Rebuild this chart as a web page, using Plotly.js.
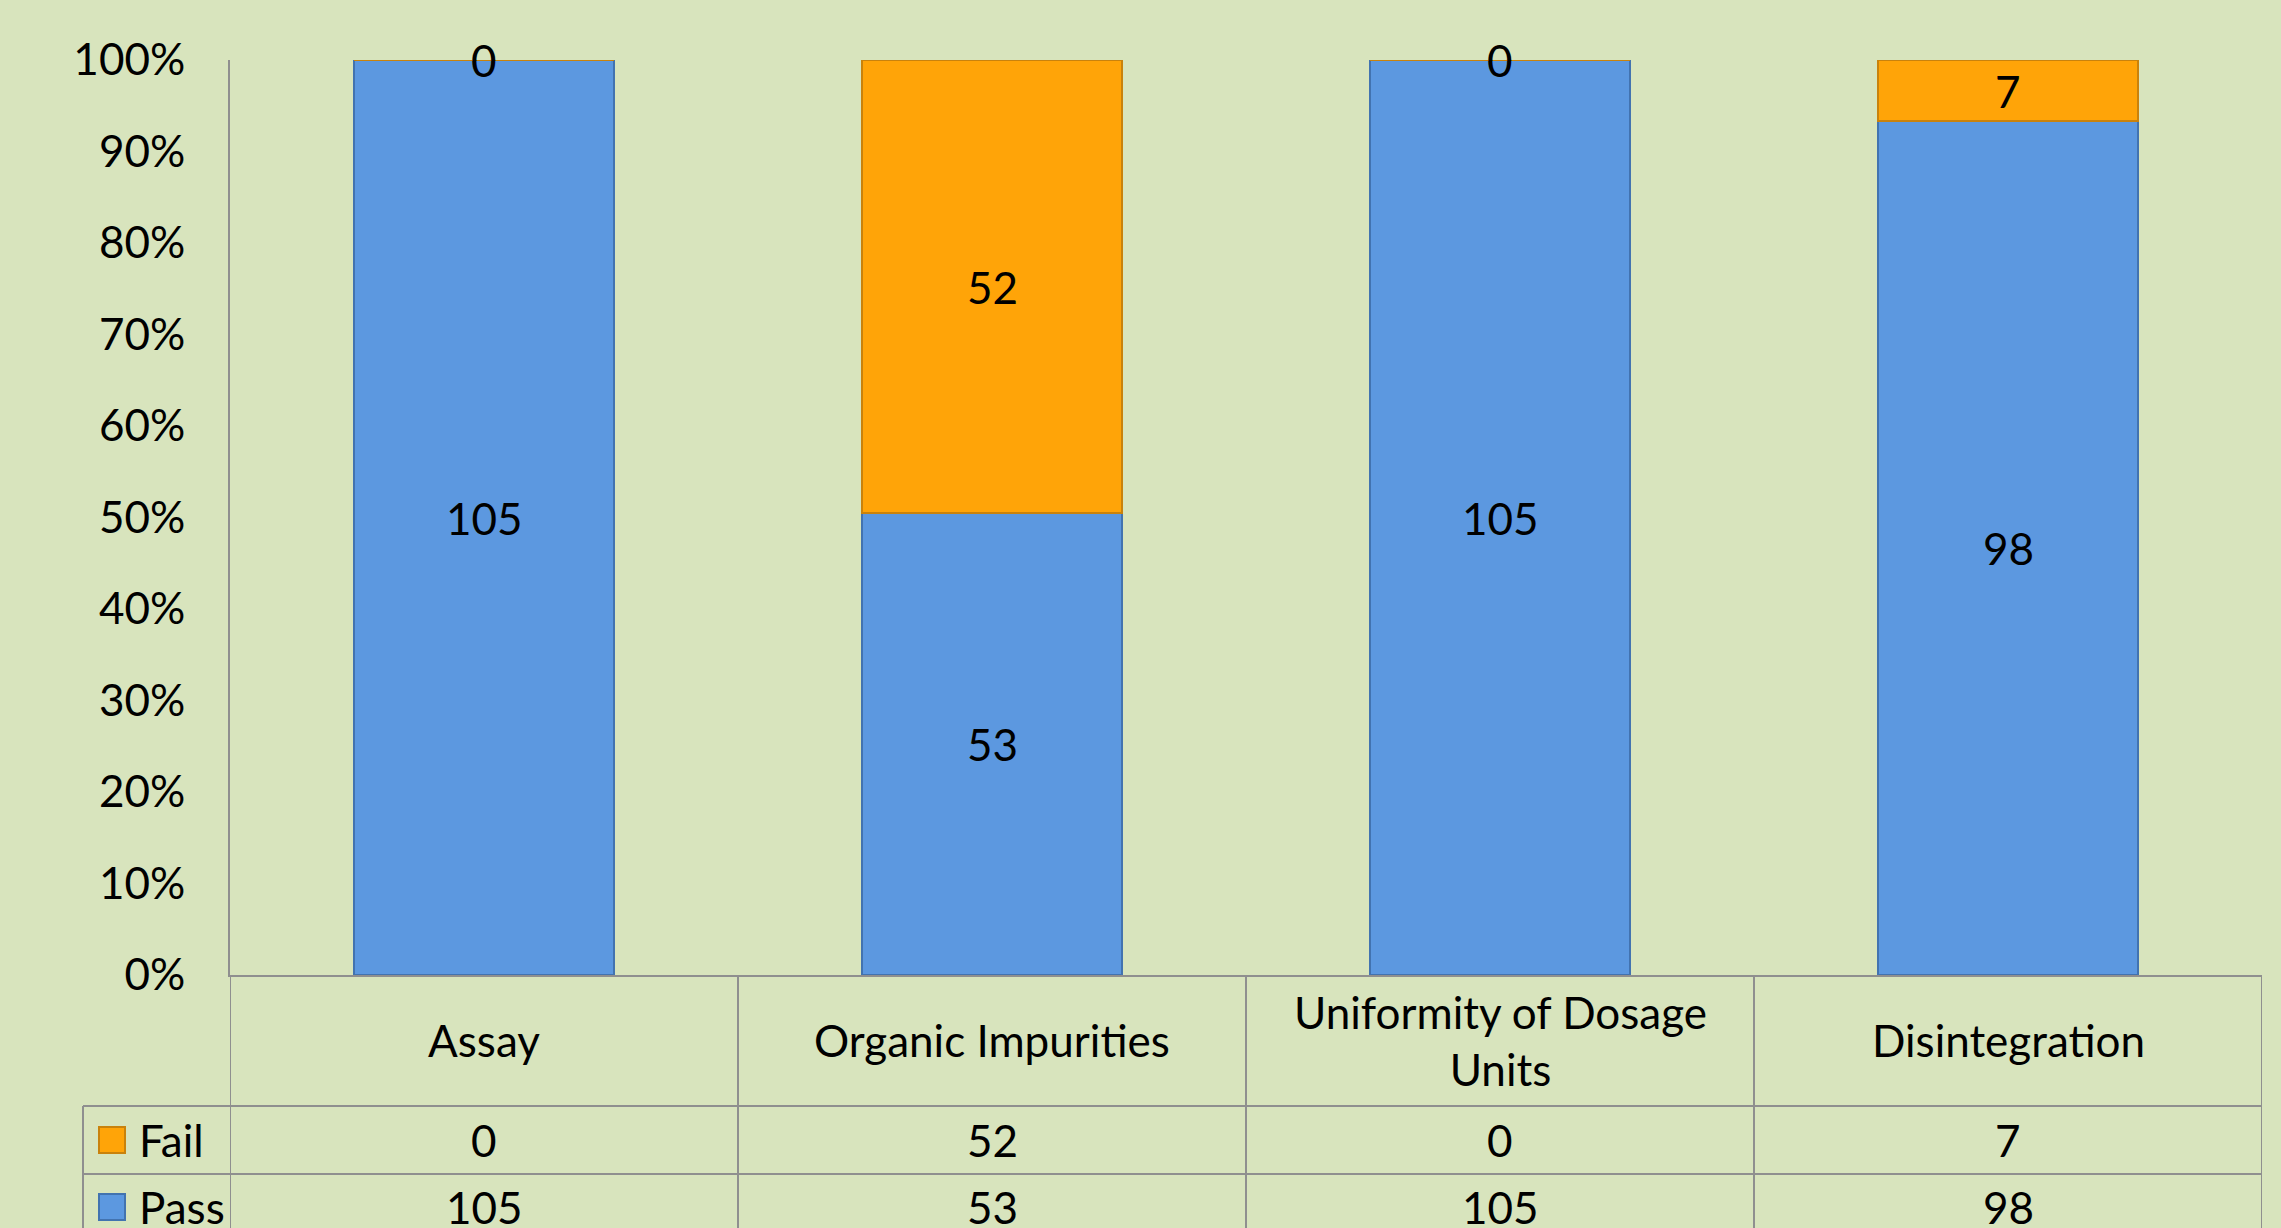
<!DOCTYPE html>
<html>
<head>
<meta charset="utf-8">
<script src="https://cdn.plot.ly/plotly-3.0.1.min.js"></script>
<style>
    html, body { margin: 0; padding: 0; background: #D8E4BD; }
    #chart { width: 2281px; height: 1228px; }
</style>
</head>
<body>
<div id="chart"></div>
<script>
// chart data
var categories = ['Assay', 'Organic Impurities', 'Uniformity of Dosage Units', 'Disintegration'];
var headerLabels = ['Assay', 'Organic Impurities', 'Uniformity of Dosage<br>Units', 'Disintegration'];
var passValues = [105, 53, 105, 98];
var failValues = [0, 52, 0, 7];
var seriesNames = ['Fail', 'Pass'];
var yTickVals = [0, 10, 20, 30, 40, 50, 60, 70, 80, 90, 100];
var yTickText = ['0%', '10%', '20%', '30%', '40%', '50%', '60%', '70%', '80%', '90%', '100%'];

var passColor = '#5C98E0';
var failColor = '#FFA408';
var gridColor = '#8F8F8F';
var font = 'Lato, "Open Sans", sans-serif';
var fontSize = 44;

// plot area in page pixels, used to place the table below the axis
var plotLeft = 230, plotRight = 2262, plotTop = 60, plotBottom = 975;

function paperX(px) {
    return (px - plotLeft) / (plotRight - plotLeft);
}

function paperY(py) {
    return (plotBottom - py) / (plotBottom - plotTop);
}

var passTrace = {
    x: categories,
    y: passValues,
    name: 'Pass',
    type: 'bar',
    width: 0.51,
    marker: {color: passColor, line: {color: '#4273B0', width: 2}},
    hoverinfo: 'none'
};

var failTrace = {
    x: categories,
    y: failValues,
    name: 'Fail',
    type: 'bar',
    width: 0.51,
    marker: {color: failColor, line: {color: '#C9820C', width: 2}},
    hoverinfo: 'none'
};

var annotations = [];
var shapes = [];

// value labels in the middle of each segment
for (let i = 0; i < categories.length; i++) {
    var total = passValues[i] + failValues[i];
    var passPct = passValues[i] / total * 100;
    var failPct = failValues[i] / total * 100;
    annotations.push({
        x: i, y: passPct / 2, xref: 'x', yref: 'y',
        text: String(passValues[i]), showarrow: false,
        font: {family: font, size: fontSize, color: '#000'}
    });
    annotations.push({
        x: i, y: passPct + failPct / 2, xref: 'x', yref: 'y',
        text: String(failValues[i]), showarrow: false,
        font: {family: font, size: fontSize, color: '#000'}
    });
}

// data table under the chart
var rowHeader = 1040, rowFail = 1140, rowPass = 1207;
for (let i = 0; i < categories.length; i++) {
    annotations.push({
        x: i, y: paperY(rowHeader), xref: 'x', yref: 'paper',
        text: headerLabels[i], showarrow: false, yanchor: 'middle',
        font: {family: font, size: fontSize, color: '#000'}
    });
    annotations.push({
        x: i, y: paperY(rowFail), xref: 'x', yref: 'paper',
        text: String(failValues[i]), showarrow: false, yanchor: 'middle',
        font: {family: font, size: fontSize, color: '#000'}
    });
    annotations.push({
        x: i, y: paperY(rowPass), xref: 'x', yref: 'paper',
        text: String(passValues[i]), showarrow: false, yanchor: 'middle',
        font: {family: font, size: fontSize, color: '#000'}
    });
}

// legend keys in the first table column
var legendRows = [rowFail, rowPass];
var legendColors = [failColor, passColor];
var legendLines = ['#C9820C', '#4273B0'];
for (let r = 0; r < seriesNames.length; r++) {
    shapes.push({
        type: 'rect', xref: 'paper', yref: 'paper',
        x0: paperX(99), x1: paperX(125),
        y0: paperY(legendRows[r] - 13), y1: paperY(legendRows[r] + 13),
        fillcolor: legendColors[r], line: {color: legendLines[r], width: 2}
    });
    annotations.push({
        x: paperX(137), y: paperY(legendRows[r]), xref: 'paper', yref: 'paper',
        xanchor: 'left', yanchor: 'middle',
        text: seriesNames[r], showarrow: false,
        font: {family: font, size: fontSize, color: '#000'}
    });
}

// table grid lines
var tableBottom = paperY(1260);
var lineStyle = {color: gridColor, width: 2};
for (let k = 0; k <= categories.length; k++) {
    shapes.push({
        type: 'line', xref: 'x', yref: 'paper',
        x0: k - 0.5, x1: k - 0.5, y0: 0, y1: tableBottom, line: lineStyle
    });
}
[1106, 1174].forEach(function(py) {
    shapes.push({
        type: 'line', xref: 'paper', yref: 'paper',
        x0: paperX(83), x1: 1, y0: paperY(py), y1: paperY(py), line: lineStyle
    });
});
shapes.push({
    type: 'line', xref: 'paper', yref: 'paper',
    x0: paperX(83), x1: paperX(83), y0: paperY(1106), y1: tableBottom, line: lineStyle
});

var layout = {
    width: 2281,
    height: 1228,
    margin: {l: plotLeft, r: 2281 - plotRight, t: plotTop, b: 1228 - plotBottom},
    paper_bgcolor: '#D8E4BD',
    plot_bgcolor: '#D8E4BD',
    barmode: 'stack',
    barnorm: 'percent',
    showlegend: false,
    font: {family: font, size: fontSize, color: '#000'},
    xaxis: {
        type: 'category',
        range: [-0.5, 3.5],
        showticklabels: false,
        ticks: '',
        showgrid: false,
        showline: true,
        linecolor: gridColor,
        linewidth: 2,
        zeroline: false
    },
    yaxis: {
        range: [0, 100],
        tickvals: yTickVals,
        ticktext: yTickText,
        ticks: 'outside',
        ticklen: 34,
        tickcolor: 'rgba(0,0,0,0)',
        showgrid: false,
        zeroline: false,
        showline: true,
        linecolor: gridColor,
        linewidth: 2,
        tickfont: {family: font, size: fontSize, color: '#000'}
    },
    annotations: annotations,
    shapes: shapes
};

Plotly.newPlot('chart', [passTrace, failTrace], layout, {displayModeBar: false, staticPlot: true});
</script>
</body>
</html>
